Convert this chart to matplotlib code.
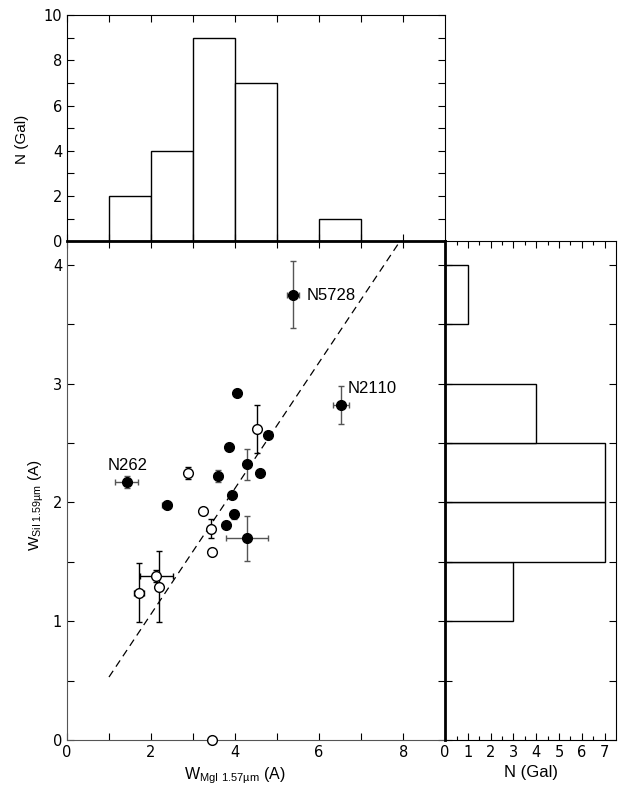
import matplotlib
matplotlib.use('Agg')
import matplotlib.pyplot as plt
import numpy as np

plt.rcParams['font.family'] = ['Liberation Sans', 'DejaVu Sans']
plt.rcParams['mathtext.fontset'] = 'custom'
plt.rcParams['mathtext.rm'] = 'Liberation Sans'
plt.rcParams['mathtext.it'] = 'Liberation Sans:italic'
plt.rcParams['text.kerning_factor'] = 6

# galaxias con simbolo lleno
x_lleno = [5.38, 6.52, 1.42, 4.05, 4.78, 3.85, 4.29, 4.59, 3.60, 3.93, 2.37, 3.98, 3.79, 4.29]
y_lleno = [3.75, 2.82, 2.17, 2.92, 2.57, 2.47, 2.32, 2.25, 2.22, 2.06, 1.98, 1.90, 1.81, 1.70]
xerr_lleno = [0.14, 0.19, 0.28, 0, 0, 0, 0, 0, 0.10, 0, 0.10, 0, 0, 0.50]
yerr_lleno = [0.28, 0.16, 0.05, 0, 0, 0, 0.13, 0, 0.05, 0, 0, 0.04, 0, 0.19]

# galaxias con simbolo vacio
x_vacio = [4.52, 2.88, 3.23, 3.42, 3.44, 2.13, 2.20, 1.71, 3.44]
y_vacio = [2.62, 2.25, 1.93, 1.78, 1.58, 1.38, 1.29, 1.24, 0.0]
xerr_vacio = [0.08, 0, 0, 0.05, 0, 0.40, 0, 0.12, 0]
yerr_vacio = [0.20, 0.05, 0, 0.08, 0, 0.05, 0.30, 0.25, 0]

# nombres
nombres = ['N5728', 'N2110', 'N262']
pos_nombres = [(5.7, 3.74), (6.68, 2.96), (0.97, 2.31)]

# histograma de arriba (MgI)
bordes_x = [1, 2, 3, 4, 6]
cuentas_x = [2, 4, 9, 7, 1]
# histograma de la derecha (SiI)
bordes_y = [1.0, 1.5, 2.0, 2.5, 3.5]
cuentas_y = [3, 7, 7, 4, 1]

# recta de ajuste
recta_x = [1.0, 8.0]
recta_y = [0.53, 4.24]

fig = plt.figure(figsize=(6.2, 7.91), dpi=100)
ax = fig.add_axes([0.108, 0.0645, 0.61, 0.6305])
ax_top = fig.add_axes([0.108, 0.695, 0.61, 0.286])
ax_der = fig.add_axes([0.718, 0.0645, 0.2755, 0.6305])

gris = '#555555'
fuente_ticks = {'family': ['DejaVu Sans'], 'size': 10.5}

# principal
ax.errorbar(x_lleno, y_lleno, xerr=xerr_lleno, yerr=yerr_lleno, fmt='o', color='black',
            ms=7, ecolor=gris, elinewidth=1, capsize=2.5, capthick=1, zorder=3)
ax.errorbar(x_vacio, y_vacio, xerr=xerr_vacio, yerr=yerr_vacio, fmt='o', mfc='white', mec='black',
            ms=7, mew=1, ecolor='black', elinewidth=1, capsize=2.5, capthick=1, zorder=3,
            clip_on=False)
ax.plot(recta_x, recta_y, '--', color='black', lw=0.9, dashes=(6, 4))
for n, (px, py) in zip(nombres, pos_nombres):
    ax.text(px, py, n, fontsize=12, va='center', ha='left')

ax.set_xlim(0, 9)
ax.set_ylim(0, 4.2)
ax.set_xticks([0, 2, 4, 6, 8])
ax.set_xticks([1, 3, 5, 7], minor=True)
ax.set_yticks([0, 1, 2, 3, 4])
ax.set_yticks([0.5, 1.5, 2.5, 3.5], minor=True)
ax.tick_params(which='both', direction='in', top=True, right=True, length=5, width=0.8)
for t in ax.get_xticklabels() + ax.get_yticklabels():
    t.set_fontproperties(fuente_ticks)
ax.set_xlabel(r'W$_{\mathrm{MgI\ 1.57µm}}$ (A)', fontsize=11.5)
ax.xaxis.set_label_coords(0.445, -0.05)
ax.set_ylabel(r'W$_{\mathrm{SiI\ 1.59µm}}$ (A)', fontsize=11)
ax.yaxis.set_label_coords(-0.055, 0.47)
for s in ['left', 'bottom']:
    ax.spines[s].set_color(gris)
ax.spines['top'].set_visible(False)
ax.spines['right'].set_visible(False)

# histograma arriba
ax_top.bar(bordes_x, cuentas_x, width=1, align='edge', facecolor='white', edgecolor='black', lw=1)
ax_top.set_xlim(0, 9)
ax_top.set_ylim(0, 10)
ax_top.set_xticks([0, 2, 4, 6, 8])
ax_top.set_xticks([1, 3, 5, 7], minor=True)
ax_top.set_yticks([0, 2, 4, 6, 8, 10])
ax_top.set_yticks([1, 3, 5, 7, 9], minor=True)
ax_top.tick_params(which='both', direction='in', top=True, right=True, labelbottom=False,
                   length=5, width=0.8)
for t in ax_top.get_yticklabels():
    t.set_fontproperties(fuente_ticks)
ax_top.set_ylabel('N (Gal)', fontsize=11)
ax_top.yaxis.set_label_coords(-0.1, 0.45)
ax_top.spines['bottom'].set_linewidth(2)

# histograma derecha
ax_der.barh(bordes_y, cuentas_y, height=0.5, align='edge', facecolor='white', edgecolor='black', lw=1)
ax_der.set_xlim(0, 7.5)
ax_der.set_ylim(0, 4.2)
ax_der.set_xticks(range(8))
ax_der.set_xticks(np.arange(0.5, 7.5, 1), minor=True)
ax_der.set_yticks(np.arange(0, 4.01, 0.5))
ax_der.tick_params(which='both', direction='in', top=True, right=True, labelleft=False,
                   length=5, width=0.8)
ax_der.tick_params(which='minor', length=3)
for t in ax_der.get_xticklabels():
    t.set_fontproperties(fuente_ticks)
ax_der.set_xlabel('N (Gal)', fontsize=12)
ax_der.spines['left'].set_linewidth(2)

fig.savefig('out.png', dpi=100)
